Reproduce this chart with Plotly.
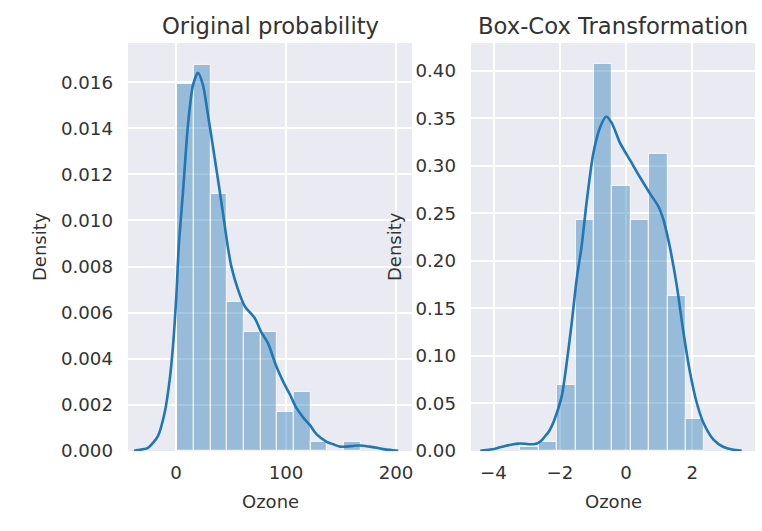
import plotly.graph_objects as go

# ---------------- data ----------------
left_bin_edges = [1.0, 16.2, 31.4, 46.5, 61.7, 76.9, 92.1, 107.3, 122.5, 137.6, 152.8, 168.0]
left_density = [0.01590, 0.01676, 0.01115, 0.00645, 0.00516, 0.00516, 0.00168, 0.00255, 0.00040, 0.0, 0.00040]

left_kde_x = [-38, -34.5, -25.5, -16.4, -10.3, -5.7, -2.7, 0.3, 2.5, 6.4, 10.9, 15.5, 20.0, 24.5,
              29.1, 35.2, 41.2, 47.3, 50.3, 56.4, 62.5, 71.5, 77.9, 83.6, 91.0, 97.5, 103.6, 109.0,
              115.7, 121.8, 127.9, 137.0, 143.0, 149.1, 155.0, 161.2, 166.0, 170.3, 176.0, 182.5,
              190.0, 197.5, 202.0]
left_kde_y = [0.00001, 0.00004, 0.00014, 0.00065, 0.00166, 0.0031, 0.00455, 0.00671, 0.00887,
              0.01126, 0.01415, 0.01588, 0.01641, 0.01588, 0.01458, 0.0127, 0.01082, 0.0088,
              0.00801, 0.0070, 0.00628, 0.00577, 0.00512, 0.00468, 0.0037, 0.0030, 0.00245,
              0.0019, 0.00145, 0.00112, 0.00072, 0.0004, 0.00029, 0.00019, 0.00019, 0.00022,
              0.00024, 0.00023, 0.00019, 0.00014, 0.00007, 0.00003, 0.00001]

right_bin_edges = [-3.19, -2.635, -2.08, -1.525, -0.97, -0.415, 0.14, 0.695, 1.25, 1.805, 2.36]
right_density = [0.0045, 0.0092, 0.0690, 0.2430, 0.4068, 0.2788, 0.2430, 0.3127, 0.1627, 0.0334]

right_kde_x = [-4.40, -4.1, -3.9, -3.65, -3.4, -3.25, -3.05, -2.9, -2.75, -2.64, -2.54, -2.44,
               -2.34, -2.24, -2.14, -1.94, -1.79, -1.64, -1.49, -1.34, -1.19, -0.99, -0.78,
               -0.60, -0.43, -0.18, 0.12, 0.42, 0.72, 0.98, 1.13, 1.23, 1.33, 1.53, 1.73, 1.93,
               2.13, 2.33, 2.63, 2.94, 3.2, 3.49]
right_kde_y = [0.0003, 0.0015, 0.0030, 0.0053, 0.0072, 0.0078, 0.0076, 0.0071, 0.0074, 0.0088,
               0.0115, 0.0158, 0.020, 0.0264, 0.035, 0.058, 0.0932, 0.135, 0.181, 0.216, 0.262,
               0.313, 0.341, 0.352, 0.345, 0.324, 0.306, 0.288, 0.271, 0.257, 0.243, 0.229,
               0.213, 0.174, 0.125, 0.0826, 0.051, 0.030, 0.0123, 0.0042, 0.0015, 0.0003]

titles = ["Original probability", "Box-Cox Transformation"]
x_label = "Ozone"
y_label = "Density"
left_xticks = [0, 100, 200]
left_yticks = [0.000, 0.002, 0.004, 0.006, 0.008, 0.010, 0.012, 0.014, 0.016]
right_xticks = [-4, -2, 0, 2]
right_yticks = [0.00, 0.05, 0.10, 0.15, 0.20, 0.25, 0.30, 0.35, 0.40]

# ---------------- styling ----------------
W, H = 762, 531
BLUE = "#1f77b4"
BG = "#EAEAF2"
TXT = "#333333"
FONT = "DejaVu Sans"
TICK_SIZE = 18.2
LABEL_SIZE = 18.0
TITLE_SIZE = 22.7

def centers(edges):
    return [(a + b) / 2 for a, b in zip(edges[:-1], edges[1:])]

def widths(edges):
    return [b - a for a, b in zip(edges[:-1], edges[1:])]

fig = go.Figure()

fig.add_trace(go.Bar(x=centers(left_bin_edges), y=left_density, width=widths(left_bin_edges),
                     marker=dict(color=BLUE, line=dict(color="white", width=1.2)),
                     opacity=0.4, xaxis="x", yaxis="y", showlegend=False, hoverinfo="skip"))
fig.add_trace(go.Scatter(x=left_kde_x, y=left_kde_y, mode="lines",
                         line=dict(color=BLUE, width=2.6, shape="spline", smoothing=0.7),
                         xaxis="x", yaxis="y", showlegend=False))
fig.add_trace(go.Bar(x=centers(right_bin_edges), y=right_density, width=widths(right_bin_edges),
                     marker=dict(color=BLUE, line=dict(color="white", width=1.2)),
                     opacity=0.4, xaxis="x2", yaxis="y2", showlegend=False, hoverinfo="skip"))
fig.add_trace(go.Scatter(x=right_kde_x, y=right_kde_y, mode="lines",
                         line=dict(color=BLUE, width=2.6, shape="spline", smoothing=0.7),
                         xaxis="x2", yaxis="y2", showlegend=False))

L1, R1 = 128 / W, 412 / W
L2, R2 = 471 / W, 755 / W
B, T = 1 - 451 / H, 1 - 43 / H

axis_common = dict(showgrid=True, gridcolor="white", gridwidth=1.6, zeroline=False,
                   showline=False, ticks="", automargin=False,
                   tickfont=dict(family=FONT, size=TICK_SIZE, color=TXT))

fig.update_layout(
    width=W, height=H, margin=dict(l=0, r=0, t=0, b=0, autoexpand=False),
    paper_bgcolor="white", plot_bgcolor=BG, bargap=0, barmode="overlay",
    font=dict(family=FONT, color=TXT),
    xaxis=dict(domain=[L1, R1], range=[-43.6, 214.5], tickvals=left_xticks,
               ticklabelstandoff=9, anchor="y", **axis_common),
    yaxis=dict(domain=[B, T], range=[0, 0.0177], tickvals=left_yticks, tickformat=".3f",
               ticklabelstandoff=14, anchor="x", **axis_common),
    xaxis2=dict(domain=[L2, R2], range=[-4.68, 3.89], tickvals=right_xticks,
                ticklabelstandoff=9, anchor="y2", **axis_common),
    yaxis2=dict(domain=[B, T], range=[0, 0.4293], tickvals=right_yticks, tickformat=".2f",
                ticklabelstandoff=14, anchor="x2", **axis_common),
)

annos = []
for (l, r), t in zip([(L1, R1), (L2, R2)], titles):
    annos.append(dict(text=t, x=(l + r) / 2, y=1 - 26 / H, xref="paper", yref="paper",
                      showarrow=False, xanchor="center", yanchor="middle",
                      font=dict(family=FONT, size=TITLE_SIZE, color=TXT)))
    annos.append(dict(text=x_label, x=(l + r) / 2, y=1 - 501 / H, xref="paper", yref="paper",
                      showarrow=False, xanchor="center", yanchor="middle",
                      font=dict(family=FONT, size=LABEL_SIZE, color=TXT)))
for xc in [40 / W, 395 / W]:
    annos.append(dict(text=y_label, x=xc, y=(B + T) / 2, xref="paper", yref="paper",
                      showarrow=False, xanchor="center", yanchor="middle", textangle=-90,
                      font=dict(family=FONT, size=LABEL_SIZE, color=TXT)))
fig.update_layout(annotations=annos)

fig.write_html("out.html")
